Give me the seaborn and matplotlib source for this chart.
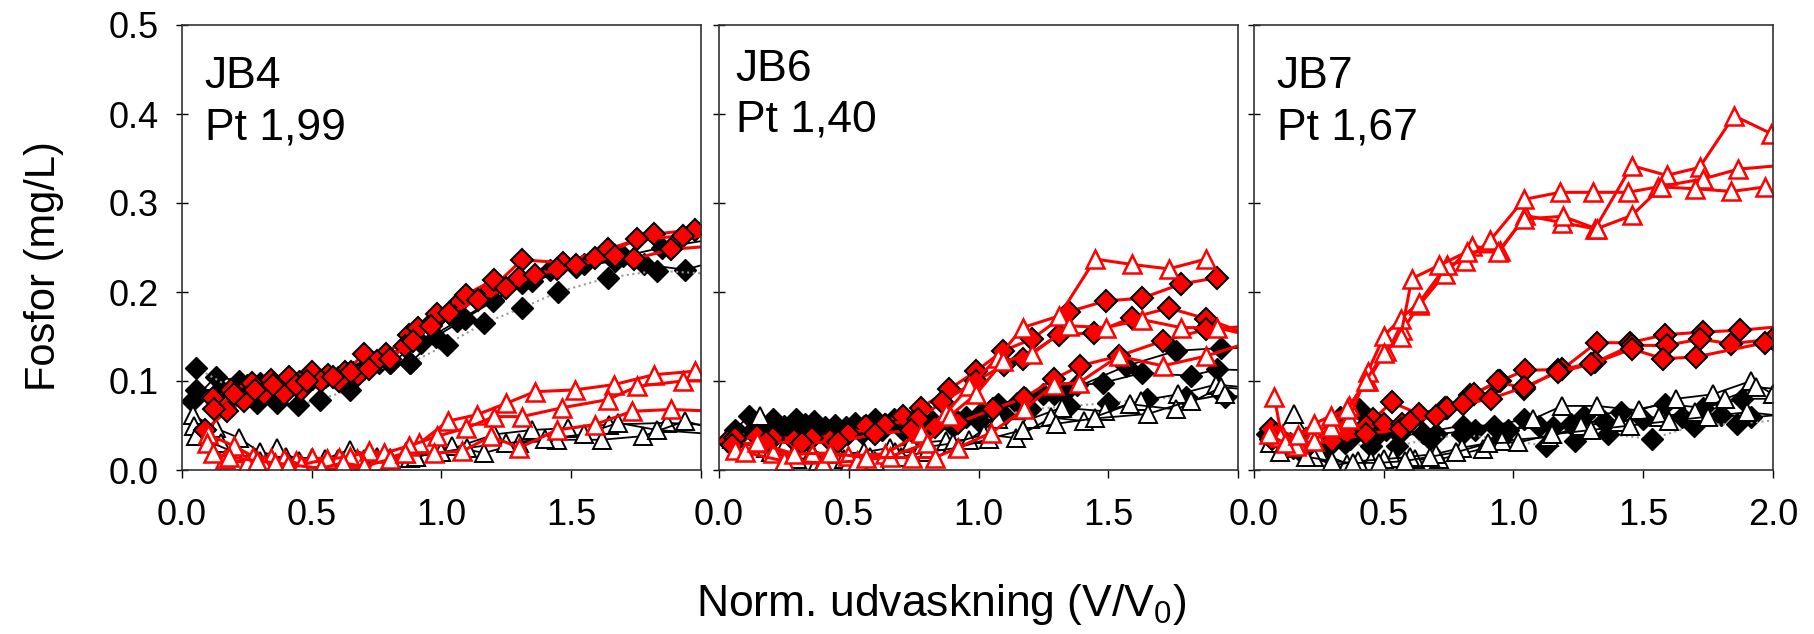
import matplotlib
matplotlib.use("Agg")
import matplotlib.pyplot as plt
import seaborn as sns
import pandas as pd

# ---------------- DATA ----------------
panel_names = ["JB4", "JB6", "JB7"]
panel_pt = ["Pt 1,99", "Pt 1,40", "Pt 1,67"]
x_ticks = [0.0, 0.5, 1.0, 1.5, 2.0]
y_ticks = [0.0, 0.1, 0.2, 0.3, 0.4, 0.5]

# ---- JB4 ----
jb4_black_x = [
    [0.04, 0.13, 0.22, 0.30, 0.40, 0.50, 0.60, 0.70, 0.80, 0.92, 1.06, 1.20, 1.35, 1.52, 1.67, 1.78, 1.94, 2.06],
    [0.055, 0.15, 0.25, 0.35, 0.45, 0.55, 0.66, 0.76, 0.88, 0.98, 1.09, 1.20, 1.31, 1.42, 1.55, 1.70, 1.85, 2.06],
    [0.055, 0.29, 0.365, 0.447, 0.53, 0.647, 0.80, 0.88, 1.02, 1.163, 1.31, 1.45, 1.64, 1.83, 2.06],
]
jb4_black_y = [
    [0.077, 0.105, 0.100, 0.098, 0.100, 0.102, 0.105, 0.115, 0.120, 0.143, 0.167, 0.191, 0.212, 0.228, 0.235, 0.231, 0.225, 0.235],
    [0.090, 0.090, 0.095, 0.095, 0.100, 0.105, 0.110, 0.120, 0.120, 0.150, 0.170, 0.190, 0.210, 0.225, 0.232, 0.240, 0.250, 0.260],
    [0.115, 0.075, 0.075, 0.073, 0.079, 0.090, 0.120, 0.120, 0.141, 0.165, 0.182, 0.200, 0.216, 0.224, 0.220],
]
jb4_white_x = [
    [0.041, 0.13, 0.22, 0.30, 0.40, 0.50, 0.60, 0.70, 0.80, 0.90, 1.00, 1.204, 1.35, 1.487, 1.645, 1.87, 2.06],
    [0.048, 0.15, 0.275, 0.365, 0.45, 0.55, 0.647, 0.75, 0.88, 1.04, 1.163, 1.30, 1.445, 1.617, 1.775, 1.94, 2.06],
    [0.055, 0.20, 0.30, 0.40, 0.50, 0.60, 0.70, 0.80, 0.90, 1.00, 1.10, 1.25, 1.40, 1.55, 1.68, 1.83, 2.06],
]
jb4_white_y = [
    [0.062, 0.047, 0.036, 0.020, 0.015, 0.013, 0.012, 0.012, 0.013, 0.015, 0.020, 0.040, 0.045, 0.047, 0.051, 0.053, 0.050],
    [0.049, 0.030, 0.002, 0.025, 0.010, 0.012, 0.023, 0.015, 0.013, 0.027, 0.019, 0.030, 0.034, 0.034, 0.038, 0.055, 0.045],
    [0.038, 0.020, 0.010, 0.008, 0.008, 0.010, 0.010, 0.012, 0.015, 0.020, 0.025, 0.030, 0.035, 0.040, 0.053, 0.045, 0.040],
]
jb4_red_x = [
    [0.12, 0.19, 0.27, 0.344, 0.413, 0.50, 0.564, 0.63, 0.70, 0.785, 0.874, 0.97, 1.074, 1.19, 1.31, 1.47, 1.64, 1.82, 1.975, 2.06],
    [0.09, 0.172, 0.24, 0.317, 0.392, 0.46, 0.537, 0.605, 0.68, 0.75, 0.86, 0.91, 0.984, 1.094, 1.204, 1.30, 1.445, 1.59, 1.755, 1.93, 2.06],
    [0.124, 0.20, 0.28, 0.35, 0.44, 0.48, 0.58, 0.65, 0.72, 0.80, 0.89, 0.96, 1.03, 1.14, 1.25, 1.36, 1.52, 1.67, 1.74, 1.886, 2.06],
]
jb4_red_y = [
    [0.081, 0.090, 0.098, 0.101, 0.105, 0.110, 0.107, 0.110, 0.130, 0.130, 0.152, 0.167, 0.190, 0.203, 0.236, 0.233, 0.248, 0.265, 0.270, 0.270],
    [0.045, 0.066, 0.077, 0.085, 0.085, 0.090, 0.100, 0.100, 0.107, 0.122, 0.139, 0.160, 0.175, 0.197, 0.214, 0.216, 0.226, 0.238, 0.259, 0.263, 0.262],
    [0.068, 0.085, 0.090, 0.095, 0.095, 0.100, 0.105, 0.110, 0.113, 0.125, 0.145, 0.162, 0.176, 0.191, 0.204, 0.219, 0.230, 0.240, 0.237, 0.248, 0.252],
]
jb4_tri_x = [
    [0.10, 0.20, 0.275, 0.344, 0.44, 0.50, 0.605, 0.674, 0.75, 0.86, 0.915, 1.025, 1.136, 1.25, 1.36, 1.514, 1.666, 1.817, 1.975, 2.06],
    [0.096, 0.165, 0.25, 0.317, 0.392, 0.46, 0.557, 0.647, 0.72, 0.78, 0.874, 0.984, 1.094, 1.204, 1.31, 1.466, 1.64, 1.755, 1.93, 2.06],
    [0.12, 0.18, 0.29, 0.36, 0.41, 0.537, 0.62, 0.70, 0.80, 0.86, 0.97, 1.08, 1.19, 1.30, 1.445, 1.59, 1.735, 1.886, 2.06],
]
jb4_tri_y = [
    [0.040, 0.027, 0.015, 0.013, 0.010, 0.013, 0.013, 0.012, 0.010, 0.019, 0.030, 0.055, 0.062, 0.075, 0.088, 0.090, 0.096, 0.107, 0.111, 0.111],
    [0.030, 0.012, 0.008, 0.006, 0.012, 0.006, 0.012, 0.015, 0.021, 0.019, 0.027, 0.038, 0.047, 0.060, 0.060, 0.070, 0.079, 0.094, 0.100, 0.100],
    [0.019, 0.015, 0.010, 0.008, 0.006, 0.002, 0.008, 0.004, 0.012, 0.019, 0.019, 0.021, 0.038, 0.025, 0.045, 0.051, 0.066, 0.068, 0.066],
]

# ---- JB6 ----
jb6_black_x = [
    [0.06, 0.117, 0.21, 0.296, 0.365, 0.448, 0.523, 0.60, 0.675, 0.78, 0.916, 1.01, 1.074, 1.178, 1.29, 1.33, 1.57, 1.763, 1.935, 2.06],
    [0.08, 0.16, 0.25, 0.33, 0.41, 0.49, 0.56, 0.64, 0.72, 0.82, 0.95, 1.05, 1.15, 1.25, 1.38, 1.48, 1.63, 1.818, 1.92, 2.06],
    [0.05, 0.14, 0.23, 0.31, 0.39, 0.47, 0.55, 0.63, 0.71, 0.80, 0.90, 1.00, 1.10, 1.20, 1.35, 1.50, 1.65, 1.80, 1.95, 2.06],
]
jb6_black_y = [
    [0.045, 0.061, 0.057, 0.057, 0.055, 0.051, 0.053, 0.057, 0.057, 0.055, 0.055, 0.064, 0.074, 0.081, 0.085, 0.087, 0.117, 0.134, 0.137, 0.137],
    [0.040, 0.050, 0.050, 0.052, 0.048, 0.048, 0.050, 0.052, 0.050, 0.055, 0.060, 0.065, 0.075, 0.085, 0.095, 0.098, 0.109, 0.106, 0.113, 0.112],
    [0.035, 0.045, 0.045, 0.042, 0.045, 0.040, 0.042, 0.045, 0.045, 0.048, 0.050, 0.055, 0.062, 0.068, 0.072, 0.075, 0.080, 0.082, 0.082, 0.080],
]
jb6_white_x = [
    [0.05, 0.158, 0.26, 0.36, 0.46, 0.56, 0.66, 0.74, 0.875, 0.964, 1.074, 1.198, 1.32, 1.488, 1.625, 1.77, 1.914, 2.06],
    [0.07, 0.18, 0.28, 0.38, 0.48, 0.58, 0.68, 0.78, 0.90, 1.02, 1.143, 1.28, 1.405, 1.584, 1.763, 1.935, 2.06],
    [0.09, 0.20, 0.30, 0.40, 0.50, 0.60, 0.70, 0.80, 0.92, 1.04, 1.17, 1.30, 1.45, 1.653, 1.818, 1.95, 2.06],
]
jb6_white_y = [
    [0.035, 0.061, 0.030, 0.020, 0.018, 0.020, 0.025, 0.030, 0.033, 0.034, 0.057, 0.057, 0.070, 0.066, 0.078, 0.085, 0.096, 0.092],
    [0.030, 0.025, 0.015, 0.010, 0.012, 0.015, 0.020, 0.025, 0.030, 0.040, 0.036, 0.059, 0.055, 0.074, 0.068, 0.093, 0.090],
    [0.025, 0.020, 0.012, 0.008, 0.008, 0.010, 0.015, 0.020, 0.025, 0.035, 0.045, 0.052, 0.058, 0.063, 0.078, 0.085, 0.080],
]
jb6_red_x = [
    [0.034, 0.145, 0.29, 0.427, 0.565, 0.71, 0.78, 0.888, 0.99, 1.095, 1.205, 1.35, 1.49, 1.63, 1.78, 1.92],
    [0.062, 0.21, 0.358, 0.496, 0.64, 0.765, 0.86, 0.99, 1.10, 1.17, 1.31, 1.446, 1.59, 1.733, 1.877, 2.06],
    [0.05, 0.18, 0.32, 0.46, 0.60, 0.74, 0.833, 0.92, 1.054, 1.175, 1.29, 1.39, 1.54, 1.71, 1.877, 2.06],
]
jb6_red_y = [
    [0.033, 0.038, 0.034, 0.034, 0.049, 0.061, 0.070, 0.091, 0.111, 0.134, 0.147, 0.178, 0.190, 0.193, 0.209, 0.216],
    [0.036, 0.036, 0.036, 0.040, 0.051, 0.057, 0.076, 0.100, 0.118, 0.125, 0.152, 0.154, 0.171, 0.182, 0.170, 0.150],
    [0.028, 0.032, 0.030, 0.032, 0.040, 0.045, 0.048, 0.053, 0.068, 0.081, 0.102, 0.117, 0.128, 0.145, 0.158, 0.162],
]
jb6_tri_x = [
    [0.062, 0.21, 0.358, 0.496, 0.64, 0.78, 0.875, 0.964, 1.074, 1.17, 1.31, 1.45, 1.59, 1.733, 1.877],
    [0.10, 0.25, 0.40, 0.53, 0.66, 0.80, 0.89, 0.99, 1.095, 1.205, 1.35, 1.49, 1.63, 1.78, 1.92, 2.06],
    [0.145, 0.29, 0.427, 0.565, 0.744, 0.833, 0.92, 1.05, 1.175, 1.29, 1.387, 1.54, 1.71, 1.877, 2.06],
]
jb6_tri_y = [
    [0.023, 0.019, 0.018, 0.016, 0.018, 0.042, 0.064, 0.094, 0.126, 0.160, 0.173, 0.237, 0.231, 0.226, 0.237],
    [0.020, 0.010, 0.008, 0.010, 0.015, 0.030, 0.061, 0.085, 0.122, 0.130, 0.162, 0.160, 0.169, 0.160, 0.160, 0.150],
    [0.031, 0.018, 0.019, 0.014, 0.014, 0.014, 0.025, 0.042, 0.068, 0.096, 0.098, 0.128, 0.117, 0.128, 0.145],
]

# ---- JB7 ----
jb7_black_x = [
    [0.06, 0.15, 0.25, 0.33, 0.403, 0.509, 0.65, 0.806, 0.926, 1.04, 1.152, 1.272, 1.413, 1.583, 1.73, 1.88, 2.06],
    [0.08, 0.18, 0.28, 0.37, 0.46, 0.56, 0.70, 0.85, 0.98, 1.10, 1.22, 1.35, 1.50, 1.65, 1.80, 1.915, 2.06],
    [0.05, 0.14, 0.24, 0.35, 0.45, 0.55, 0.68, 0.80, 0.95, 1.124, 1.237, 1.364, 1.534, 1.696, 1.86, 2.06],
]
jb7_black_y = [
    [0.035, 0.025, 0.030, 0.060, 0.069, 0.045, 0.042, 0.050, 0.050, 0.057, 0.048, 0.061, 0.065, 0.074, 0.070, 0.080, 0.080],
    [0.030, 0.020, 0.025, 0.035, 0.035, 0.040, 0.040, 0.045, 0.045, 0.050, 0.052, 0.055, 0.057, 0.060, 0.062, 0.059, 0.063],
    [0.040, 0.030, 0.025, 0.030, 0.027, 0.027, 0.035, 0.040, 0.035, 0.027, 0.033, 0.040, 0.035, 0.050, 0.052, 0.057],
]
jb7_white_x = [
    [0.08, 0.155, 0.25, 0.36, 0.452, 0.537, 0.622, 0.714, 0.883, 1.074, 1.187, 1.32, 1.484, 1.625, 1.767, 1.915, 2.0],
    [0.06, 0.13, 0.23, 0.304, 0.40, 0.50, 0.60, 0.70, 0.80, 0.954, 1.138, 1.26, 1.406, 1.56, 1.70, 1.816, 1.936, 2.06],
    [0.10, 0.20, 0.30, 0.38, 0.48, 0.58, 0.68, 0.78, 0.90, 1.018, 1.15, 1.30, 1.45, 1.60, 1.75, 1.90, 2.06],
]
jb7_white_y = [
    [0.040, 0.063, 0.020, 0.007, 0.010, 0.014, 0.012, 0.012, 0.024, 0.057, 0.072, 0.072, 0.067, 0.080, 0.085, 0.100, 0.085],
    [0.030, 0.025, 0.015, 0.005, 0.010, 0.012, 0.015, 0.018, 0.025, 0.033, 0.037, 0.050, 0.054, 0.060, 0.065, 0.080, 0.093, 0.090],
    [0.020, 0.015, 0.010, 0.008, 0.008, 0.010, 0.015, 0.020, 0.030, 0.031, 0.040, 0.045, 0.050, 0.055, 0.060, 0.065, 0.060],
]
jb7_red_x = [
    [0.064, 0.20, 0.297, 0.367, 0.46, 0.53, 0.636, 0.735, 0.834, 0.947, 1.046, 1.187, 1.32, 1.449, 1.583, 1.73, 1.873, 2.06],
    [0.085, 0.22, 0.297, 0.36, 0.43, 0.502, 0.572, 0.742, 0.848, 0.94, 1.04, 1.173, 1.314, 1.456, 1.59, 1.717, 1.837, 2.0],
    [0.07, 0.18, 0.30, 0.43, 0.565, 0.60, 0.70, 0.806, 0.912, 1.04, 1.173, 1.30, 1.456, 1.576, 1.703, 1.97, 2.06],
]
jb7_red_y = [
    [0.046, 0.035, 0.035, 0.042, 0.057, 0.076, 0.063, 0.070, 0.084, 0.100, 0.112, 0.113, 0.143, 0.143, 0.152, 0.155, 0.157, 0.162],
    [0.040, 0.030, 0.038, 0.042, 0.050, 0.052, 0.052, 0.070, 0.085, 0.100, 0.091, 0.112, 0.121, 0.140, 0.140, 0.147, 0.142, 0.147],
    [0.035, 0.030, 0.033, 0.040, 0.046, 0.054, 0.061, 0.074, 0.080, 0.093, 0.110, 0.119, 0.136, 0.125, 0.127, 0.143, 0.143],
]
jb7_tri_x = [
    [0.078, 0.106, 0.17, 0.233, 0.304, 0.367, 0.438, 0.509, 0.572, 0.636, 0.735, 0.84, 0.947, 1.046, 1.187, 1.314, 1.456, 1.59, 1.717, 1.85, 1.993],
    [0.064, 0.099, 0.163, 0.233, 0.297, 0.367, 0.438, 0.502, 0.565, 0.636, 0.742, 0.813, 0.91, 1.04, 1.18, 1.307, 1.44, 1.555, 1.73, 1.866, 2.06],
    [0.057, 0.12, 0.17, 0.233, 0.297, 0.36, 0.43, 0.502, 0.565, 0.608, 0.714, 0.82, 0.94, 1.04, 1.19, 1.32, 1.456, 1.57, 1.70, 1.84, 1.97],
]
jb7_tri_y = [
    [0.082, 0.039, 0.029, 0.042, 0.052, 0.072, 0.100, 0.134, 0.157, 0.185, 0.220, 0.252, 0.246, 0.286, 0.278, 0.271, 0.342, 0.331, 0.340, 0.398, 0.378],
    [0.042, 0.037, 0.027, 0.033, 0.048, 0.057, 0.110, 0.151, 0.170, 0.188, 0.230, 0.235, 0.258, 0.304, 0.312, 0.312, 0.312, 0.318, 0.327, 0.338, 0.343],
    [0.040, 0.030, 0.039, 0.052, 0.061, 0.068, 0.100, 0.132, 0.150, 0.215, 0.230, 0.245, 0.245, 0.282, 0.285, 0.271, 0.286, 0.318, 0.316, 0.313, 0.318],
]

panel_data = [
    (jb4_black_x, jb4_black_y, jb4_white_x, jb4_white_y, jb4_red_x, jb4_red_y, jb4_tri_x, jb4_tri_y),
    (jb6_black_x, jb6_black_y, jb6_white_x, jb6_white_y, jb6_red_x, jb6_red_y, jb6_tri_x, jb6_tri_y),
    (jb7_black_x, jb7_black_y, jb7_white_x, jb7_white_y, jb7_red_x, jb7_red_y, jb7_tri_x, jb7_tri_y),
]

# ---------------- STYLE ----------------
sns.set_style("white")
plt.rcParams["font.family"] = ["Liberation Sans", "DejaVu Sans"]
plt.rcParams["mathtext.fontset"] = "custom"
plt.rcParams["mathtext.rm"] = "Liberation Sans"
plt.rcParams["mathtext.default"] = "regular"
plt.rcParams["text.color"] = "black"
plt.rcParams["axes.labelcolor"] = "black"
plt.rcParams["xtick.color"] = "black"
plt.rcParams["ytick.color"] = "black"

RED = "#ff0000"
DMS = 11.5
TMS = 13.5
styles = {
    "black": [dict(color="black", lw=1.3, ls="-", marker="D", ms=DMS, mfc="black", mec="black", mew=1.0),
              dict(color="black", lw=1.3, ls="-", marker="D", ms=DMS, mfc="black", mec="black", mew=1.0),
              dict(color="#9a9a9a", lw=1.5, ls=":", marker="D", ms=DMS, mfc="black", mec="black", mew=1.0)],
    "white": dict(color="black", lw=1.3, ls="-", marker="^", ms=TMS, mfc="white", mec="black", mew=1.4),
    "red": dict(color=RED, lw=2.2, ls="-", marker="D", ms=DMS, mfc=RED, mec="black", mew=1.5),
    "tri": dict(color=RED, lw=2.2, ls="-", marker="^", ms=TMS, mfc="white", mec=RED, mew=1.8),
}


def draw(ax, xs, ys, st):
    df = pd.DataFrame({"x": xs, "y": ys})
    sns.lineplot(data=df, x="x", y="y", ax=ax, estimator=None, sort=False,
                 color=st["color"], linewidth=st["lw"], linestyle=st["ls"],
                 marker=st["marker"], markersize=st["ms"],
                 markerfacecolor=st["mfc"], markeredgecolor=st["mec"],
                 markeredgewidth=st["mew"])


fig = plt.figure(figsize=(18.15, 6.34), dpi=100)
lefts = [182 / 1815, 719 / 1815, 1254 / 1815]
W = 519 / 1815
B = 1 - 470 / 634
H = 445 / 634
text_pos = [(0.044, 0.858, 0.742), (0.032, 0.875, 0.760), (0.044, 0.858, 0.742)]

for i, (bx, by, wx, wy, rx, ry, tx, ty) in enumerate(panel_data):
    ax = fig.add_axes([lefts[i], B, W, H])
    for k in range(len(bx)):
        draw(ax, bx[k], by[k], styles["black"][k])
    for k in range(len(wx)):
        draw(ax, wx[k], wy[k], styles["white"])
    for k in range(len(rx)):
        draw(ax, rx[k], ry[k], styles["red"])
    for k in range(len(tx)):
        draw(ax, tx[k], ty[k], styles["tri"])

    ax.set_xlim(0, 2.0)
    ax.set_ylim(0, 0.5)
    ax.set_xticks(x_ticks)
    ax.set_yticks(y_ticks)
    if i < 2:
        ax.set_xticklabels([f"{v:.1f}" for v in x_ticks[:-1]] + [""])
    else:
        ax.set_xticklabels([f"{v:.1f}" for v in x_ticks])
    if i == 0:
        ax.set_yticklabels([f"{v:.1f}" for v in y_ticks])
    else:
        ax.set_yticklabels([])
    ax.set_xlabel("")
    ax.set_ylabel("")
    ax.tick_params(axis="x", bottom=True, direction="out", length=6, width=1, labelsize=26, pad=14, color="black", labelcolor="black")
    ax.tick_params(axis="y", left=True, direction="inout", length=9, width=1, labelsize=26, pad=12, color="black", labelcolor="black")
    for sp in ax.spines.values():
        sp.set_visible(True)
        sp.set_color("#333333")
        sp.set_linewidth(1.2)
    tx0, ty1, ty2 = text_pos[i]
    ax.text(tx0, ty1, panel_names[i], transform=ax.transAxes, fontsize=32, va="baseline", ha="left", color="black")
    ax.text(tx0, ty2, panel_pt[i], transform=ax.transAxes, fontsize=32, va="baseline", ha="left", color="black")

fig.text(0.024, 0.58, "Fosfor (mg/L)", rotation=90, fontsize=30, ha="center", va="center", color="black")
fig.text(0.5185, 0.028, "Norm. udvaskning (V/V$_0$)", fontsize=32, ha="center", va="baseline", color="black")

fig.savefig("out.png", dpi=100)
